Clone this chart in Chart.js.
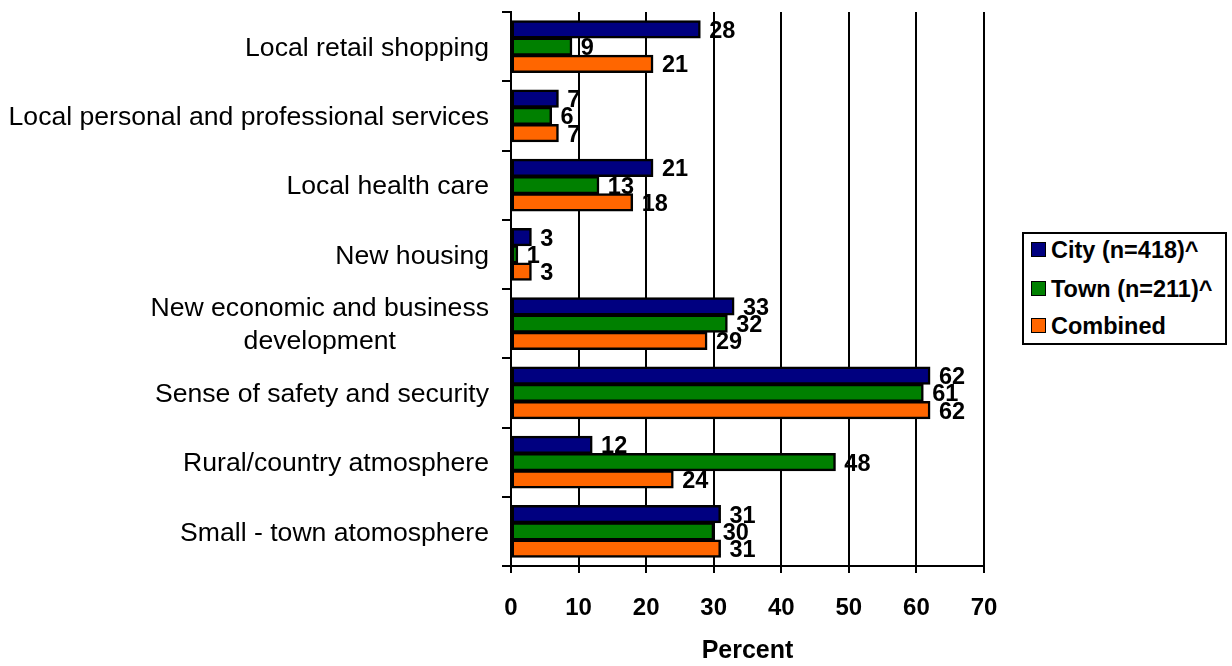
<!DOCTYPE html>
<html>
<head>
<meta charset="utf-8">
<script src="https://cdn.jsdelivr.net/npm/chart.js@4.4.1/dist/chart.umd.min.js"></script>
<style>
    html, body { margin: 0; padding: 0; background: #fff; }
    #wrap { position: relative; width: 1232px; height: 666px; }
    #legend {
        position: absolute; left: 1022px; top: 232px;
        width: 201px; height: 109px;
        border: 2px solid #000; background: #fff;
        font: bold 23.5px Arial, "Liberation Sans", sans-serif; color: #000;
    }
    .item { position: absolute; left: 7px; height: 28px; line-height: 28px; white-space: nowrap; }
    .swatch {
        display: inline-block; width: 13px; height: 13px; border: 1.5px solid #000;
        vertical-align: middle; margin-right: 5px; position: relative; top: -2px;
    }
</style>
</head>
<body>
<div id="wrap">
    <canvas id="chart"></canvas>
    <div id="legend"></div>
</div>
<script>
// Datos
const categories = [
    'Local retail shopping',
    'Local personal and professional services',
    'Local health care',
    'New housing',
    ['New economic and business', 'development'],
    'Sense of safety and security',
    'Rural/country atmosphere',
    'Small - town atomosphere'
];
const seriesNames = ['City (n=418)^', 'Town (n=211)^', 'Combined'];
const cityValues = [28, 7, 21, 3, 33, 62, 12, 31];
const townValues = [9, 6, 13, 1, 32, 61, 48, 30];
const combinedValues = [21, 7, 18, 3, 29, 62, 24, 31];
const seriesColors = ['#000080', '#008000', '#FF6600'];
const xTicks = [0, 10, 20, 30, 40, 50, 60, 70];

const FONT = 'Arial, "Liberation Sans", sans-serif';

// Leyenda en HTML
const legendEl = document.getElementById('legend');
const itemTops = [2, 41, 78];
seriesNames.forEach((name, i) => {
    const item = document.createElement('div');
    item.className = 'item';
    item.style.top = itemTops[i] + 'px';
    item.innerHTML = '<span class="swatch" style="background:' + seriesColors[i] + '"></span>' + name;
    legendEl.appendChild(item);
});

// Etiquetas del eje Y (centradas entre líneas, alineadas a la derecha)
const yLabelsPlugin = {
    id: 'yLabels',
    afterDraw(chart) {
        const ctx = chart.ctx;
        const yScale = chart.scales.y;
        const rightEdge = 489;
        ctx.save();
        ctx.font = '26.6px ' + FONT;
        ctx.fillStyle = '#000';
        ctx.textBaseline = 'middle';
        categories.forEach((label, i) => {
            const y = yScale.getPixelForTick(i);
            if (Array.isArray(label)) {
                const widths = label.map(l => ctx.measureText(l).width);
                const maxW = Math.max(...widths);
                const cx = rightEdge - maxW / 2;
                const step = 33;
                ctx.textAlign = 'center';
                label.forEach((line, j) => {
                    ctx.fillText(line, cx, y + 2 + (j - (label.length - 1) / 2) * step);
                });
            } else {
                ctx.textAlign = 'right';
                ctx.fillText(label, rightEdge, y + 2);
            }
        });
        ctx.restore();
    }
};

// Valores al final de cada barra
const valueLabelsPlugin = {
    id: 'valueLabels',
    afterDatasetsDraw(chart) {
        const ctx = chart.ctx;
        ctx.save();
        ctx.font = 'bold 23.5px ' + FONT;
        ctx.fillStyle = '#000';
        ctx.textAlign = 'left';
        ctx.textBaseline = 'middle';
        chart.data.datasets.forEach((ds, di) => {
            const meta = chart.getDatasetMeta(di);
            meta.data.forEach((bar, i) => {
                ctx.fillText(String(ds.data[i]), bar.x + 9, bar.y + 2);
            });
        });
        ctx.restore();
    }
};

const ctx = document.getElementById('chart').getContext('2d');
const chart = new Chart(ctx, {
    type: 'bar',
    data: {
        labels: categories,
        datasets: [
            { label: seriesNames[0], data: cityValues, backgroundColor: seriesColors[0] },
            { label: seriesNames[1], data: townValues, backgroundColor: seriesColors[1] },
            { label: seriesNames[2], data: combinedValues, backgroundColor: seriesColors[2] }
        ].map(ds => Object.assign(ds, {
            borderColor: '#000',
            borderWidth: 2.5,
            borderSkipped: false,
            inflateAmount: 0.5,
            categoryPercentage: 0.75,
            barPercentage: 1.0
        }))
    },
    options: {
        indexAxis: 'y',
        responsive: true,
        maintainAspectRatio: false,
        animation: false,
        layout: {
            padding: { top: 12, right: 248, left: 0, bottom: 0 }
        },
        plugins: {
            legend: { display: false },
            tooltip: { enabled: false }
        },
        scales: {
            y: {
                type: 'category',
                afterFit(scale) { scale.width = 511; },
                ticks: { display: false },
                grid: {
                    offset: true,
                    drawOnChartArea: false,
                    drawTicks: true,
                    tickLength: 9,
                    color: '#000',
                    lineWidth: 2
                },
                border: { display: true, color: '#000', width: 2 }
            },
            x: {
                min: xTicks[0],
                max: xTicks[xTicks.length - 1],
                afterBuildTicks(scale) {
                    scale.ticks = xTicks.map(v => ({ value: v }));
                },
                afterFit(scale) { scale.height = 100; },
                ticks: {
                    color: '#000',
                    font: { family: FONT, size: 24, weight: 'bold' },
                    padding: 21,
                    maxRotation: 0
                },
                grid: {
                    drawOnChartArea: true,
                    drawTicks: true,
                    tickLength: 7,
                    color: '#000',
                    lineWidth: 2
                },
                border: { display: true, color: '#000', width: 2 },
                title: {
                    display: true,
                    text: 'Percent',
                    color: '#000',
                    font: { family: FONT, size: 25, weight: 'bold' },
                    padding: { top: 0, bottom: 0 }
                }
            }
        }
    },
    plugins: [yLabelsPlugin, valueLabelsPlugin]
});
</script>
</body>
</html>
